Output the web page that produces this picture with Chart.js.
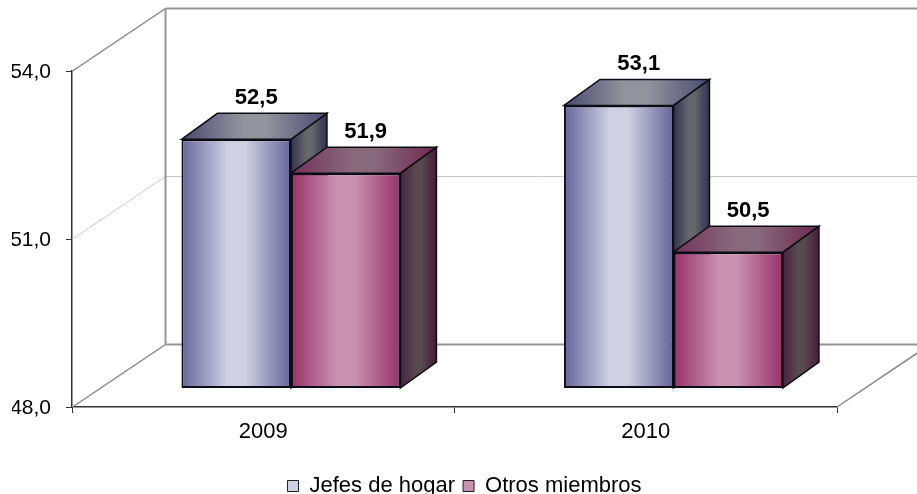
<!DOCTYPE html>
<html>
<head>
<meta charset="utf-8">
<style>html,body{margin:0;padding:0;background:#fff}#w{width:917px;height:494px;position:relative}</style>
<script src="https://cdn.jsdelivr.net/npm/chart.js@4"></script>
</head>
<body>
<div id="w"><canvas id="c"></canvas></div>
<script>
const categories = ['2009', '2010'];
const seriesNames = ['Jefes de hogar', 'Otros miembros'];
const jefes = [52.5, 53.1];
const otros = [51.9, 50.5];
const yTicks = [48, 51, 54];
const barScaleMin = 48.094;
const barScaleMax = 54.046;

const FONT = '"Liberation Sans", Arial, sans-serif';
const WALL = { dx: 93, dy: -62.5 };       // depth of the chart box
const BAR3D = { dx: 36, dy: -26 };        // depth of a bar
const BAR_SHIFT = { x: 27.7, y: -19 };    // bars stand inside the floor
const LABEL = { dx: 20, dy: -41 };
const palette = [
  { front: ['#65659a', '#d0d0e3', '#65659a'], top: ['#4a4a70', '#93939e', '#4a4a70'], side: ['#32324f', '#66666c', '#32324f'] },
  { front: ['#963268', '#c991b0', '#963268'], top: ['#73325a', '#88697a', '#6e2850'], side: ['#4a2240', '#574a50', '#471c34'] }
];
const fmt = v => v.toFixed(1).replace('.', ',');

function grad(ctx, x0, x1, cols) {
  const g = ctx.createLinearGradient(x0, 0, x1, 0);
  g.addColorStop(0, cols[0]);
  g.addColorStop(0.42, cols[1]);
  g.addColorStop(0.58, cols[1]);
  g.addColorStop(1, cols[2]);
  return g;
}
function poly(ctx, pts, fill) {
  ctx.beginPath();
  pts.forEach((p, i) => i ? ctx.lineTo(p[0], p[1]) : ctx.moveTo(p[0], p[1]));
  ctx.closePath();
  ctx.fillStyle = fill;
  ctx.fill();
  ctx.lineWidth = 1.5;
  ctx.strokeStyle = '#0c0c14';
  ctx.stroke();
}
function prepareBars(chart, i) {
  const ctx = chart.ctx, meta = chart.getDatasetMeta(i), d = BAR3D;
  meta.data.forEach(el => {
    const l = el.x - el.width / 2, r = el.x + el.width / 2, y = el.y, b = el.base;
    poly(ctx, [[r, b], [r + d.dx, b + d.dy], [r + d.dx, y + d.dy], [r, y]], grad(ctx, r, r + d.dx, palette[i].side));
    poly(ctx, [[l, y], [l + d.dx, y + d.dy], [r + d.dx, y + d.dy], [r, y]], grad(ctx, l, r + d.dx, palette[i].top));
    el.options = Object.assign({}, el.options, { backgroundColor: grad(ctx, l, r, palette[i].front) });
  });
}

const box3d = {
  id: 'box3d',
  afterLayout(chart) {
    const lg = chart.legend;
    if (!lg || !lg.legendItems) return;
    lg.legendItems.forEach((it, i) => {
      const h = lg.legendHitBoxes[i];
      it.fillStyle = grad(chart.ctx, h.left, h.left + 11, palette[i].front);
    });
  },
  beforeDatasetsDraw(chart) {
    const { ctx, chartArea: a, scales: { y } } = chart;
    const fx = a.left + 0.5, rx = a.right, by = y.getPixelForValue(yTicks[0]);
    const bx = fx + WALL.dx, end = rx + WALL.dx;
    const line = (x0, y0, x1, y1, col, w) => {
      ctx.beginPath(); ctx.moveTo(x0, y0); ctx.lineTo(x1, y1);
      ctx.strokeStyle = col; ctx.lineWidth = w; ctx.stroke();
    };
    ctx.save();
    const my = y.getPixelForValue(yTicks[1]);
    line(fx, my, bx, my + WALL.dy, '#c8c8c8', 1);
    line(bx, my + WALL.dy, end, my + WALL.dy, '#c8c8c8', 1);
    const ty = y.getPixelForValue(yTicks[2]);
    line(bx, ty + WALL.dy, bx, by + WALL.dy, '#969696', 2);
    line(bx, ty + WALL.dy, end, ty + WALL.dy, '#969696', 2);
    line(bx, by + WALL.dy, end, by + WALL.dy, '#969696', 2);
    line(fx, ty, bx, ty + WALL.dy, '#868686', 1.5);
    line(fx, by, bx, by + WALL.dy, '#868686', 1.5);
    line(rx, by, end, by + WALL.dy, '#868686', 1.5);
    ctx.restore();
    ctx.save();
    ctx.translate(BAR_SHIFT.x, BAR_SHIFT.y);
  },
  beforeDatasetDraw(chart, args) {
    if (args.index === 1) return false;
    prepareBars(chart, 0);
  },
  afterDatasetDraw(chart, args) {
    if (args.index !== 0) return;
    prepareBars(chart, 1);
    chart.getDatasetMeta(1).controller.draw();
  },
  afterDatasetsDraw(chart) {
    const ctx = chart.ctx;
    ctx.restore();
    ctx.save();
    ctx.font = 'bold 22px ' + FONT;
    ctx.fillStyle = '#000';
    ctx.textAlign = 'center';
    ctx.textBaseline = 'middle';
    [jefes, otros].forEach((vals, i) => {
      chart.getDatasetMeta(i).data.forEach((el, k) => {
        ctx.fillText(fmt(vals[k]), el.x + BAR_SHIFT.x + LABEL.dx, el.y + BAR_SHIFT.y + LABEL.dy);
      });
    });
    ctx.restore();
  }
};

const barStyle = { yAxisID: 'yBar', clip: false, base: barScaleMin, borderWidth: 2, borderSkipped: false, borderColor: '#0c0c14', backgroundColor: '#888' };

new Chart(document.getElementById('c'), {
  type: 'bar',
  plugins: [box3d],
  data: {
    labels: categories,
    datasets: [
      { label: seriesNames[0], data: jefes, ...barStyle },
      { label: seriesNames[1], data: otros, ...barStyle }
    ]
  },
  options: {
    responsive: true,
    maintainAspectRatio: false,
    animation: false,
    layout: { padding: { left: 12, top: 71, right: 0, bottom: -13 } },
    datasets: { bar: { categoryPercentage: 0.5725, barPercentage: 1 } },
    scales: {
      x: {
        offset: true,
        border: { color: '#333', width: 1.5 },
        grid: { drawOnChartArea: false, tickLength: 6, color: '#333', offset: true, lineWidth: 1 },
        ticks: { color: '#000', font: { family: FONT, size: 22 }, padding: 6, maxRotation: 0 },
        afterFit(s) { s.height = 60; }
      },
      y: {
        min: 48, max: 54,
        position: 'left',
        border: { color: '#333', width: 1.5 },
        grid: { drawOnChartArea: false, tickLength: 6, color: '#333', lineWidth: 1 },
        ticks: {
          color: '#000', font: { family: FONT, size: 21 }, padding: 15, labelOffset: 1,
          stepSize: 3, callback: v => fmt(v)
        },
        afterFit(s) { s.width = 60; }
      },
      yBar: {
        position: 'right',
        min: barScaleMin, max: barScaleMax,
        border: { display: false },
        grid: { display: false },
        ticks: { display: false },
        afterFit(s) { s.width = 80; }
      }
    },
    plugins: {
      tooltip: { enabled: false },
      legend: {
        position: 'bottom',
        labels: {
          color: '#000', font: { family: FONT, size: 22 }, boxWidth: 11, boxHeight: 11, padding: 8,
          generateLabels(chart) {
            return seriesNames.map((n, i) => ({
              text: n, fillStyle: palette[i].front[1], strokeStyle: '#222', lineWidth: 1, datasetIndex: i, hidden: false
            }));
          }
        }
      }
    }
  }
});
</script>
</body>
</html>
